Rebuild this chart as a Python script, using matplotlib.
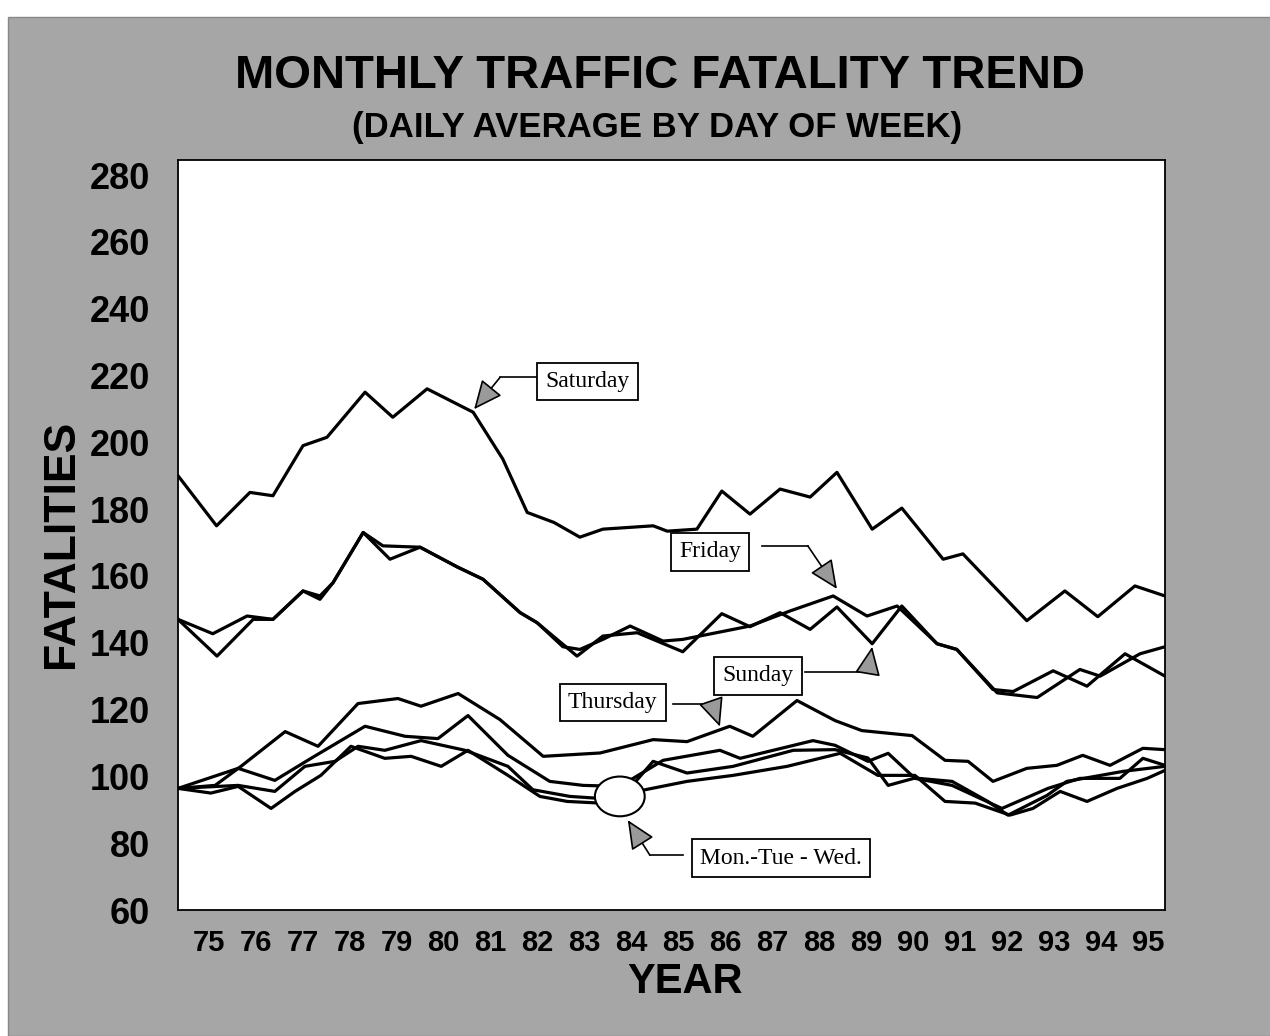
import matplotlib
matplotlib.use('Agg')
import matplotlib.pyplot as plt
from matplotlib.patches import Ellipse, Rectangle

# monthly daily-average fatalities (year, value)
sat_years = [74.35, 75.17, 75.88, 76.37, 77.01, 77.52, 78.33, 78.92, 79.65, 80.63, 81.26, 81.78,
             82.35, 82.90, 83.39, 84.46, 84.76, 85.39, 85.92, 86.52, 87.16, 87.80, 88.37, 89.12,
             89.75, 90.63, 91.05, 92.41, 93.22, 93.92, 94.71, 95.35]
sat_vals = [190, 175, 185, 184, 199, 201.5, 215, 207.5, 216, 209, 195, 179,
            176, 171.6, 174, 175, 173.4, 174, 185.4, 178.5, 186, 183.6, 191, 174,
            180.3, 165, 166.6, 146.6, 155.5, 147.8, 157, 154]

fri_years = [74.35, 75.09, 75.82, 76.37, 77.01, 77.37, 77.65, 78.29, 78.71, 79.50, 80.29, 80.84,
             81.63, 81.99, 82.54, 82.90, 83.39, 83.97, 84.67, 85.09, 86.52, 87.37, 88.29, 89.01,
             89.65, 90.50, 90.92, 91.69, 92.12, 92.97, 93.69, 94.50, 95.35]
fri_vals = [147, 142.7, 148, 147, 155.5, 154, 158, 173, 169, 168.6, 162.7, 159,
            149, 146, 138.8, 138, 141, 145, 140.5, 141, 145, 149.5, 154, 148,
            151, 139.7, 138, 126, 125.4, 131.6, 127, 136.7, 130]

sun_years = [74.35, 75.18, 75.95, 76.37, 77.01, 77.37, 77.65, 78.29, 78.86, 79.50, 80.29, 80.84,
             81.63, 81.99, 82.84, 83.39, 84.12, 85.09, 85.92, 86.52, 87.16, 87.80, 88.37, 89.12,
             89.75, 90.50, 90.92, 91.78, 92.63, 93.54, 93.97, 94.82, 95.35]
sun_vals = [147, 136, 147, 147, 155.5, 153, 158, 173, 165, 168.6, 162.7, 159,
            149, 146, 136, 142, 143, 137.3, 148.7, 144.8, 149, 144, 150.7, 139.7,
            151, 139.7, 138, 125, 123.6, 132, 130, 136.7, 138.8]

thu_years = [74.35, 75.14, 75.69, 76.63, 77.33, 78.18, 79.03, 79.52, 80.31, 81.20, 82.12, 83.33,
             84.46, 85.18, 86.09, 86.58, 87.52, 88.33, 88.90, 89.97, 90.67, 91.16, 91.69, 92.41,
             93.05, 93.60, 94.18, 94.88, 95.35]
thu_vals = [96.4, 97.3, 103, 113.4, 109, 121.8, 123.3, 121, 124.8, 117, 106, 107,
            111, 110.4, 115, 112, 122.7, 116.7, 113.7, 112.2, 104.8, 104.5, 98.5, 102.4,
            103.3, 106.3, 103.3, 108.4, 108]

mtw1_years = [74.35, 75.63, 76.41, 77.18, 78.33, 79.18, 79.88, 80.52, 81.37, 82.26, 82.97, 83.75,
              84.67, 85.88, 86.31, 87.86, 88.33, 89.03, 89.46, 90.03, 90.82, 91.88, 92.86, 93.54,
              94.39, 94.88, 95.35]
mtw1_vals = [96.4, 102.4, 98.8, 105.4, 115, 112, 111.3, 118.2, 106.3, 98.5, 97.3, 97,
             104.8, 107.8, 105.4, 110.7, 109.3, 104.5, 106.9, 99.4, 97.3, 90.4, 96.4, 99.4,
             99.4, 105.4, 103.3]

mtw2_years = [74.35, 75.63, 76.41, 77.05, 77.69, 78.18, 78.75, 79.52, 80.46, 81.37, 81.90, 82.69,
              83.75, 84.46, 85.18, 86.16, 87.44, 88.33, 89.03, 89.46, 90.03, 90.82, 91.58, 92.01,
              92.84, 93.26, 94.46, 95.35]
mtw2_vals = [96.4, 97.3, 95.5, 103, 104.5, 109, 107.8, 110.7, 107.8, 103, 96, 94,
             93, 104.5, 101, 103, 107.8, 108, 105.5, 97.3, 99.5, 98.5, 92.5, 88.4,
             94.3, 98.5, 101.5, 103]

mtw3_years = [74.35, 75.05, 75.63, 76.33, 76.84, 77.39, 78.03, 78.75, 79.31, 79.95, 80.52, 81.37,
              82.05, 82.63, 83.33, 84.29, 85.18, 86.16, 87.31, 88.44, 89.24, 90.03, 90.67, 91.31,
              92.05, 92.54, 93.12, 93.69, 94.33, 94.97, 95.35]
mtw3_vals = [96.4, 95, 97, 90.4, 95.5, 100.3, 109, 105.4, 106, 103, 107.8, 100.3,
             94, 92.5, 92, 96, 98.5, 100.3, 103, 106.9, 100.3, 100.3, 92.5, 92,
             88.4, 90.4, 95.5, 92.5, 96.4, 99.4, 101.8]

year_ticks = list(range(75, 96))
year_labels = [str(y) for y in year_ticks]
y_ticks = list(range(60, 281, 20))

sans = ['Liberation Sans', 'DejaVu Sans']
serif = ['Liberation Serif', 'DejaVu Serif']

fig = plt.figure(figsize=(12.7, 10.36), dpi=100)
fig.patch.set_facecolor('white')
fig.add_artist(Rectangle((8 / 1270, 0), 1, 1 - 17 / 1036, transform=fig.transFigure,
                         facecolor='#a6a6a6', edgecolor='#888888', lw=1, zorder=0))

ax = fig.add_axes([178 / 1270, 1 - 910 / 1036, 987 / 1270, 750 / 1036])
ax.set_facecolor('white')

series = [(sat_years, sat_vals), (fri_years, fri_vals), (sun_years, sun_vals),
          (thu_years, thu_vals), (mtw1_years, mtw1_vals), (mtw2_years, mtw2_vals),
          (mtw3_years, mtw3_vals)]
for xs, ys in series:
    ax.plot(xs, ys, color='black', lw=2.3, solid_joinstyle='round', zorder=2)

ax.set_xlim(74.35, 95.35)
ax.set_ylim(60, 284.5)
ax.set_xticks(year_ticks)
ax.set_xticklabels(year_labels, fontfamily=sans, fontweight='bold', fontsize=21)
ax.set_yticks(y_ticks)
ax.set_yticklabels([str(v) for v in y_ticks], fontfamily=sans, fontweight='bold', fontsize=26)
ax.tick_params(axis='both', length=0)
ax.tick_params(axis='y', pad=20)
ax.tick_params(axis='x', pad=14)
for s in ax.spines.values():
    s.set_linewidth(1.3)

# circle marking the Mon-Tue-Wed cluster
ax.add_patch(Ellipse((83.75, 94.0), 1.06, 11.9, facecolor='white', edgecolor='black',
                     lw=1.5, zorder=4))

# callout labels: (text, box centre, line start, elbow, arrow tip)
callouts = [
    ('Saturday', (83.07, 218.2), (82.01, 219.4), (81.20, 219.4), (80.65, 209.9)),
    ('Friday', (85.67, 167.2), (86.78, 169.0), (87.75, 169.0), (88.37, 156.1)),
    ('Sunday', (86.69, 130.1), (87.69, 131.3), (89.03, 131.3), (89.12, 138.8)),
    ('Thursday', (83.60, 122.1), (84.88, 121.8), (85.71, 121.8), (85.88, 114.9)),
    ('Mon.-Tue - Wed.', (87.18, 75.5), (85.09, 76.4), (84.39, 76.4), (83.92, 86.9)),
]
for label, box, start, elbow, tip in callouts:
    ax.text(box[0], box[1], label, ha='center', va='center', fontfamily=serif, fontsize=17,
            zorder=6, bbox=dict(boxstyle='square,pad=0.35', fc='white', ec='black', lw=1.3))
    ax.plot([start[0], elbow[0]], [start[1], elbow[1]], color='black', lw=1.2, zorder=5)
    ax.annotate('', xy=tip, xytext=elbow,
                arrowprops=dict(arrowstyle='-|>,head_length=1.0,head_width=0.45',
                                mutation_scale=18, fc='#9a9a9a', ec='black', lw=1.2,
                                shrinkA=0, shrinkB=0), zorder=5)

fig.text(660 / 1270, 1 - 76 / 1036, 'MONTHLY TRAFFIC FATALITY TREND', ha='center', va='center',
         fontfamily=sans, fontweight='bold', fontsize=34)
fig.text(657 / 1270, 1 - 127 / 1036, '(DAILY AVERAGE BY DAY OF WEEK)', ha='center', va='center',
         fontfamily=sans, fontweight='bold', fontsize=25)
fig.text(62 / 1270, 1 - 544 / 1036, 'FATALITIES', ha='center', va='center', rotation=90,
         fontfamily=sans, fontweight='bold', fontsize=32)
fig.text(685 / 1270, 1 - 982 / 1036, 'YEAR', ha='center', va='center',
         fontfamily=sans, fontweight='bold', fontsize=30)

plt.savefig('out.png', dpi=100)
